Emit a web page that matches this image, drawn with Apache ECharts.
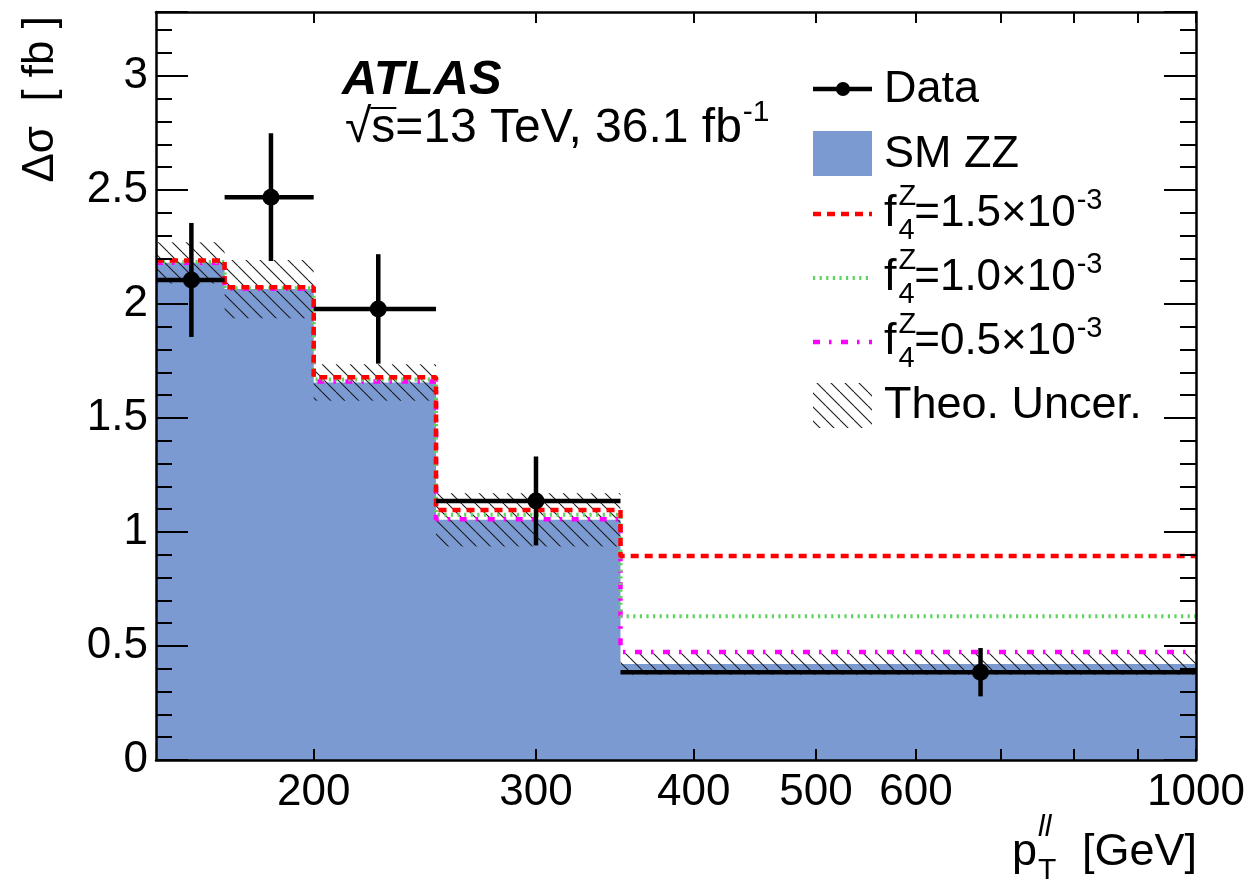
<!DOCTYPE html>
<html><head><meta charset="utf-8">
<script src="https://cdn.jsdelivr.net/npm/echarts@6/dist/echarts.min.js"></script>
<style>html,body{margin:0;padding:0;background:#fff}#c{width:1249px;height:884px}</style>
</head><body><div id="c"></div>
<script>
// ---- data ----
const binEdges = [150, 170, 200, 250, 350, 1000];
const smZZ     = [2.18, 2.065, 1.655, 1.053, 0.421];
const theoUnc  = [0.09, 0.128, 0.08, 0.117, 0.047];
const f4_15    = [2.19, 2.073, 1.678, 1.096, 0.895];
const f4_10    = [2.184, 2.069, 1.668, 1.075, 0.630];
const f4_05    = [2.18, 2.066, 1.660, 1.056, 0.474];
const dataX    = [160, 185, 225, 300, 675];
const dataY    = [2.105, 2.468, 1.978, 1.136, 0.385];
const dataErr  = [0.25, 0.28, 0.24, 0.195, 0.106];
const xTickValues  = [200, 300, 400, 500, 600, 700, 800, 900, 1000];
const xLabelValues = [200, 300, 400, 500, 600, 1000];
const yMin = 0, yMax = 3.28, yInterval = 0.5;

// ---- styling ----
const FONT = '"Liberation Sans", Arial, Helvetica, sans-serif';
const BLUE = '#7b9ad1', RED = '#ff0000', GREEN = '#5fd35f', MAGENTA = '#ff00ff';
const FS = 45, TFS = 44;

function makeHatch() {
  const c = document.createElement('canvas'); c.width = 14; c.height = 14;
  const g = c.getContext('2d'); g.strokeStyle = '#1a1a1a'; g.lineWidth = 1.1;
  for (const k of [-14, 0, 14]) { g.beginPath(); g.moveTo(k, 0); g.lineTo(k + 14, 14); g.stroke(); }
  return c;
}
const hatch = makeHatch();
const mctx = document.createElement('canvas').getContext('2d');
function tw(str, size, extra) { mctx.font = (extra || '') + ' ' + size + 'px "Liberation Sans"'; return mctx.measureText(str).width; }

function stepData(vals) { return binEdges.map((e, i) => [e, vals[Math.min(i, vals.length - 1)]]); }

function txt(x, y, text, size, opt) {
  opt = opt || {};
  return { type: 'text', x: x, y: y, rotation: opt.rotation || 0, z: 100,
    style: { text: text, fill: '#000', fontSize: size, fontFamily: FONT,
      fontWeight: opt.weight || 'normal', fontStyle: opt.style || 'normal',
      textAlign: opt.align || 'left', textVerticalAlign: opt.valign || 'middle',
      align: opt.align || 'left', verticalAlign: opt.valign || 'middle' } };
}

// ---- graphics: texts and legend ----
const graphics = [];
// ATLAS label
graphics.push(txt(342, 80, 'ATLAS', 49, { weight: 'bold', style: 'italic' }));
(function () {
  const x0 = 345, y = 129, s = 48;
  const main = '\u221As=13 TeV, 36.1 fb';
  graphics.push(txt(x0, y, main, s));
  const wr = tw('\u221A', s), ws = tw('\u221As', s);
  graphics.push({ type: 'line', z: 100, shape: { x1: x0 + wr - 1, y1: y - 21, x2: x0 + ws + 1, y2: y - 21 }, style: { stroke: '#000', lineWidth: 2 } });
  graphics.push(txt(x0 + tw(main, s) + 1, y - 16, '-1', 30));
})();
// axis titles
graphics.push(txt(41, 16, '\u0394\u03C3  [ fb ]', 44, { rotation: Math.PI / 2, align: 'right' }));
(function () {
  const yc = 853;
  graphics.push(txt(1197, yc, '[GeV]', 45, { align: 'right' }));
  const xp = 1012;
  graphics.push(txt(xp, yc, 'p', 45));
  const xs = xp + tw('p', 45) + 1;
  graphics.push(txt(xs, yc - 25, 'll', 30, { style: 'italic' }));
  graphics.push(txt(xs, yc + 18, 'T', 30));
})();
// legend
const LX0 = 813, LX1 = 872, LT = 884;
graphics.push({ type: 'line', z: 100, shape: { x1: LX0, y1: 89, x2: LX1, y2: 89 }, style: { stroke: '#000', lineWidth: 4.5 } });
graphics.push({ type: 'circle', z: 100, shape: { cx: 843, cy: 89, r: 7 }, style: { fill: '#000' } });
graphics.push(txt(LT, 90, 'Data', FS));
graphics.push({ type: 'rect', z: 100, shape: { x: LX0, y: 131, width: LX1 - LX0, height: 45 }, style: { fill: BLUE } });
graphics.push(txt(LT, 155, 'SM ZZ', FS));
function fEntry(y, val, color, dash, lw) {
  graphics.push({ type: 'line', z: 100, shape: { x1: LX0, y1: y, x2: LX1, y2: y }, style: { stroke: color, lineWidth: lw, lineDash: dash, lineCap: 'butt' } });
  graphics.push(txt(LT, y, 'f', FS));
  const xz = LT + tw('f', FS) + 2;
  graphics.push(txt(xz, y - 17, 'Z', 29));
  graphics.push(txt(xz, y + 17, '4', 29));
  const xm = xz + tw('Z', 29) - 2;
  const main = '=' + val + '\u00D710';
  graphics.push(txt(xm, y, main, 44));
  graphics.push(txt(xm + tw(main, 44) + 1, y - 13, '-3', 29));
}
fEntry(214, '1.5', RED, [8, 6], 4.5);
fEntry(278, '1.0', GREEN, [2.2, 4.4], 4);
fEntry(342, '0.5', MAGENTA, [7, 9, 2.5, 9.5], 4.5);
graphics.push({ type: 'rect', z: 100, shape: { x: LX0, y: 383, width: LX1 - LX0, height: 45 }, style: { fill: { image: hatch, repeat: 'repeat' } } });
graphics.push(txt(LT, 406, 'Theo. Uncer.', FS));

// ---- axes ----
const log10 = v => Math.log10(v);
const axisLineStyle = { color: '#000', width: 2.5 };
const tickStyle = { color: '#000', width: 2 };
function xValueAxis(pos, showLabels) {
  return {
    type: 'value', position: pos, min: log10(binEdges[0]), max: log10(binEdges[binEdges.length - 1]), z: 10,
    axisLine: { show: true, onZero: false, lineStyle: axisLineStyle },
    axisTick: { show: true, inside: true, length: 11, customValues: xTickValues.map(log10), lineStyle: tickStyle },
    axisLabel: { show: showLabels, customValues: xLabelValues.map(log10), margin: 11,
      formatter: v => String(Math.round(Math.pow(10, v))), fontSize: TFS, fontFamily: FONT, color: '#000' },
    splitLine: { show: false }
  };
}
function yAxisDef(pos, showLabels) {
  return {
    type: 'value', position: pos, min: yMin, max: yMax, interval: yInterval, z: 10,
    axisLine: { show: true, onZero: false, lineStyle: axisLineStyle },
    axisTick: { show: true, inside: true, length: 32, lineStyle: tickStyle },
    minorTick: { show: true, splitNumber: 5, length: 16, lineStyle: tickStyle },
    axisLabel: { show: showLabels, showMaxLabel: false, margin: 8, fontSize: TFS, fontFamily: FONT, color: '#000',
      formatter: v => String(v) },
    splitLine: { show: false }, minorSplitLine: { show: false }
  };
}

const option = {
  animation: false,
  backgroundColor: '#fff',
  grid: { left: 156, right: 53, top: 12, bottom: 124, containLabel: false, show: false },
  xAxis: [
    { type: 'log', logBase: 10, min: binEdges[0], max: binEdges[binEdges.length - 1], show: false },
    xValueAxis('bottom', true),
    xValueAxis('top', false)
  ],
  yAxis: [yAxisDef('left', true), yAxisDef('right', false)],
  graphic: { elements: graphics },
  series: [
    { type: 'line', name: 'SM ZZ', step: 'end', data: stepData(smZZ), symbol: 'none', silent: true, z: 1,
      xAxisIndex: 0, yAxisIndex: 0, lineStyle: { width: 0, color: BLUE }, areaStyle: { color: BLUE, opacity: 1 } },
    { type: 'custom', name: 'Theo. Uncer.', xAxisIndex: 0, yAxisIndex: 0, z: 2, silent: true, clip: true,
      data: smZZ.map((v, i) => [binEdges[i], binEdges[i + 1], v - theoUnc[i], v + theoUnc[i]]),
      encode: { x: [0, 1], y: [2, 3] },
      renderItem: function (params, api) {
        const p0 = api.coord([api.value(0), api.value(3)]);
        const p1 = api.coord([api.value(1), api.value(2)]);
        return { type: 'rect', shape: { x: p0[0], y: p0[1], width: p1[0] - p0[0], height: p1[1] - p0[1] },
          style: { fill: { image: hatch, repeat: 'repeat' } } };
      } },
    { type: 'line', name: 'f4Z=0.5e-3', step: 'end', data: stepData(f4_05), symbol: 'none', silent: true, z: 3,
      xAxisIndex: 0, yAxisIndex: 0, lineStyle: { width: 4.5, color: MAGENTA, type: [7, 9, 2.5, 9.5], cap: 'butt' } },
    { type: 'line', name: 'f4Z=1.0e-3', step: 'end', data: stepData(f4_10), symbol: 'none', silent: true, z: 4,
      xAxisIndex: 0, yAxisIndex: 0, lineStyle: { width: 4, color: GREEN, type: [2.2, 4.4], cap: 'butt' } },
    { type: 'line', name: 'f4Z=1.5e-3', step: 'end', data: stepData(f4_15), symbol: 'none', silent: true, z: 5,
      xAxisIndex: 0, yAxisIndex: 0, lineStyle: { width: 4.5, color: RED, type: [8, 6], cap: 'butt' } },
    { type: 'custom', name: 'Data', xAxisIndex: 0, yAxisIndex: 0, z: 6, silent: true, clip: true,
      data: dataX.map((x, i) => [x, dataY[i], dataErr[i], binEdges[i], binEdges[i + 1]]),
      encode: { x: [0, 3, 4], y: 1 },
      renderItem: function (params, api) {
        const x = api.value(0), y = api.value(1), e = api.value(2);
        const pc = api.coord([x, y]), pt = api.coord([x, y + e]), pb = api.coord([x, y - e]);
        const pl = api.coord([api.value(3), y]), pr = api.coord([api.value(4), y]);
        return { type: 'group', children: [
          { type: 'line', shape: { x1: pt[0], y1: pt[1], x2: pb[0], y2: pb[1] }, style: { stroke: '#000', lineWidth: 4.5 } },
          { type: 'line', shape: { x1: pl[0], y1: pl[1], x2: pr[0], y2: pr[1] }, style: { stroke: '#000', lineWidth: 4.5 } },
          { type: 'circle', shape: { cx: pc[0], cy: pc[1], r: 8.5 }, style: { fill: '#000' } }
        ] };
      } }
  ]
};
const chart = echarts.init(document.getElementById('c'), null, { renderer: 'canvas' });
chart.setOption(option);
</script>
</body></html>
